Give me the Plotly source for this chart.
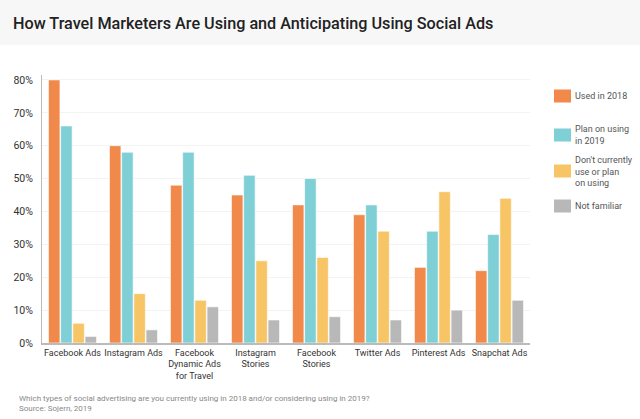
import plotly.graph_objects as go

categories = ["Facebook Ads", "Instagram Ads", "Facebook<br>Dynamic Ads<br>for Travel",
              "Instagram<br>Stories", "Facebook<br>Stories", "Twitter Ads",
              "Pinterest Ads", "Snapchat Ads"]
series_names = ["Used in 2018", "Plan on using<br>in 2019",
                "Don't currently<br>use or plan<br>on using", "Not familiar"]
used_2018 = [80, 60, 48, 45, 42, 39, 23, 22]
plan_2019 = [66, 58, 58, 51, 50, 42, 34, 33]
dont_use = [6, 15, 13, 25, 26, 34, 46, 44]
not_familiar = [2, 4, 11, 7, 8, 7, 10, 13]
colors = ["#F0894A", "#7FCFD6", "#F7C466", "#B8B8B8"]
y_ticks = [0, 10, 20, 30, 40, 50, 60, 70, 80]
y_tick_labels = [f"{v}%" for v in y_ticks]

values = [used_2018, plan_2019, dont_use, not_familiar]

fig = go.Figure()
for name, vals, c in zip(series_names, values, colors):
    fig.add_trace(go.Bar(x=categories, y=vals, name=name, marker_color=c,
                         marker_line_color="white", marker_line_width=0.6,
                         showlegend=False))

shapes = []
annotations = []
PW = 640 - 42 - 110
PH = 419 - 75 - 76
legend_y = [96, 135, 171, 206]
for name, c, ly in zip(series_names, colors, legend_y):
    yp = (419 - 76 - ly) / PH
    x0 = (554 - 42) / PW
    x1 = (571 - 42) / PW
    h = 13 / PH
    shapes.append(dict(type="rect", xref="paper", yref="paper", x0=x0, x1=x1,
                       y0=yp - h / 2, y1=yp + h / 2, fillcolor=c, line_width=0))
    annotations.append(dict(xref="paper", yref="paper", x=(573 - 42) / PW, y=yp,
                            text=name, showarrow=False, xanchor="left", yanchor="middle",
                            align="left", font=dict(size=9, color="#555")))

# title band
shapes.append(dict(type="rect", xref="paper", yref="paper", x0=-42 / PW, x1=(640 - 42) / PW,
                   y0=(419 - 76 - 45) / PH, y1=(419 - 76) / PH, fillcolor="#F7F7F7",
                   line_width=0, layer="below"))
annotations.append(dict(xref="paper", yref="paper", x=(11 - 42) / PW, y=(419 - 76 - 23) / PH,
                        text="How Travel Marketers Are Using and Anticipating Using Social Ads",
                        showarrow=False, xanchor="left", yanchor="middle",
                        font=dict(size=16.2, color="#222", weight=500)))
annotations.append(dict(xref="paper", yref="paper", x=(17 - 42) / PW, y=-(403 - 343) / PH,
                        text="Which types of social advertising are you currently using in 2018 and/or considering using in 2019?<br>Source: Sojern, 2019",
                        showarrow=False, xanchor="left", yanchor="middle", align="left",
                        font=dict(size=8, color="#888")))

fig.update_layout(
    width=640, height=419,
    margin=dict(l=42, r=110, t=75, b=76),
    paper_bgcolor="white", plot_bgcolor="white",
    font=dict(family="Roboto", color="#333"),
    barmode="group", bargap=0.2, bargroupgap=0.06,
    shapes=shapes, annotations=annotations,
    xaxis=dict(showline=True, linecolor="#BBBBBB", linewidth=1.5, ticks="",
               tickangle=0, tickfont=dict(size=9, color="#333"),
               showgrid=False),
    yaxis=dict(range=[0, 81.5], tickvals=y_ticks, ticktext=y_tick_labels,
               showline=True, linecolor="#BBBBBB", linewidth=1,
               gridcolor="#F3F3F3", tickfont=dict(size=10.5, color="#333"),
               ticks="", ticklabelstandoff=6, zeroline=False),
)

fig.write_html("out.html", config={"displayModeBar": False},
               post_script="document.body.style.margin='0';document.body.style.overflow='hidden';")
